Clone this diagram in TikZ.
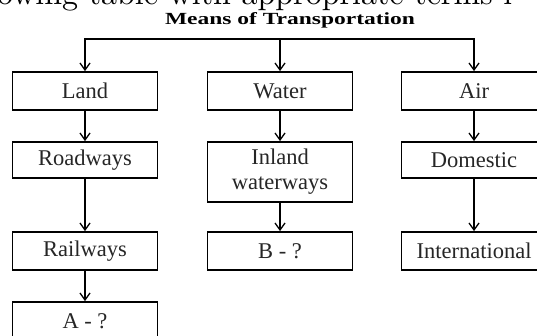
\documentclass[tikz,border=0pt]{standalone}
\usepackage{fontspec}
\newfontfamily\tnr{Liberation Serif}
\newfontfamily\lmten{lmroman10-regular}[Extension=.otf]
\usetikzlibrary{arrows.meta}
\begin{document}
\begin{tikzpicture}[x=1pt,y=-1pt,
  box/.style={draw, line width=1.8pt, minimum width=145pt, minimum height=38pt,
    inner sep=0pt, font=\tnr\fontsize{22.5}{25}\selectfont, align=center, text=black!85},
  arr/.style={line width=1.3pt, -{Straight Barb[length=7pt,width=10pt,line width=1.3pt]}}]
\useasboundingbox (0,0) rectangle (537,335);
\clip (0,0) rectangle (537,335);
\fill[white] (0,0) rectangle (537,335);
% partial heading text cut off at top
\node[anchor=base west, inner sep=0pt, font=\lmten\fontsize{32}{34}\selectfont] (head) at (-3,4) {owing table with appropriate terms i};
% title
\node[inner sep=0pt, anchor=base, font=\tnr\bfseries\fontsize{17}{19}\selectfont] (title) at (290,24) {\scalebox{1.38}[1]{Means of Transportation}};
% column 1
\node[box] (land) at (85,91) {Land};
\node[box, minimum height=36pt] (road) at (85,160) {Roadways};
\node[box] (rail) at (85,251) {Railways};
\node[box] (a) at (85,321) {A - ?};
% column 2
\node[box] (water) at (280,91) {Water};
\node[box, minimum height=60pt] (inland) at (280,172) {Inland\\waterways};
\node[box] (b) at (280,251) {B - ?};
% column 3
\node[box] (air) at (474,91) {Air};
\node[box, minimum height=36pt] (dom) at (474,160) {Domestic};
\node[box] (intl) at (474,251) {International};
% connectors
\coordinate (top) at (280,39);
\draw[arr] (top) -| (land);
\draw[arr] (top) -| (air);
\draw[arr] (top) -- (water);
\draw[arr] (land) -- (road);
\draw[arr] (road) -- (rail);
\draw[arr] (rail) -- (a);
\draw[arr] (water) -- (inland);
\draw[arr] (inland) -- (b);
\draw[arr] (air) -- (dom);
\draw[arr] (dom) -- (intl);
\end{tikzpicture}
\end{document}
